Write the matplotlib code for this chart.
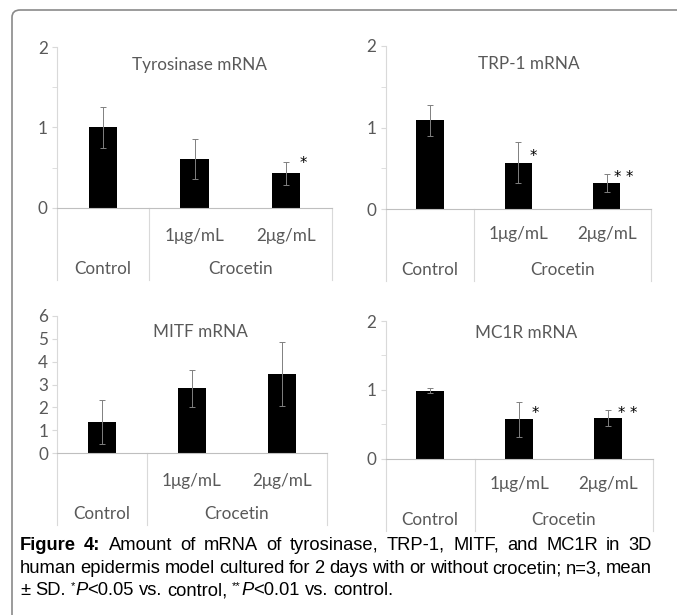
import matplotlib
matplotlib.use("Agg")
import matplotlib.pyplot as plt
from matplotlib.patches import FancyBboxPatch

plt.rcParams['font.family'] = ['Lato', 'DejaVu Sans']

# data
groups = ['Control', 'Crocetin']
doses = ['', '1μg/mL', '2μg/mL']

tyr_mean = [1.00, 0.61, 0.43]
tyr_sd = [0.25, 0.25, 0.145]
trp_mean = [1.09, 0.57, 0.32]
trp_sd = [0.19, 0.25, 0.115]
mitf_mean = [1.38, 2.83, 3.46]
mitf_sd = [0.96, 0.82, 1.39]
mc1r_mean = [0.99, 0.57, 0.59]
mc1r_sd = [0.035, 0.26, 0.12]

W, H = 677, 615
fig = plt.figure(figsize=(W / 100, H / 100), dpi=100)

# outer frame (only top and left visible)
frame = FancyBboxPatch((12 / W, -0.1), 1.2, 1 - 10 / H + 0.1,
                       boxstyle="round,pad=0,rounding_size=0.012",
                       transform=fig.transFigure, fill=False,
                       edgecolor='#8a8a8a', linewidth=1.2)
fig.patches.append(frame)

GRID = '#d9d9d9'
TXT = '#595959'
FS = 12.3


def panel(box, means, sds, title, title_xy, ymax, minor, stars, sub_off):
    x0, ytop, x1, ybot = box
    ax = fig.add_axes([x0 / W, 1 - ybot / H, (x1 - x0) / W, (ybot - ytop) / H])
    xs = range(len(means))
    ax.bar(xs, means, width=0.31, color='black', zorder=2)
    ax.errorbar(xs, means, yerr=sds, fmt='none', ecolor='#808080',
                elinewidth=0.7, capsize=2.5, capthick=0.7, zorder=3)
    ax.set_xlim(-0.5, 2.5)
    ax.set_ylim(0, ymax)
    ax.set_yticks(range(ymax + 1))
    if minor:
        ax.set_yticks([0.5, 1.5], minor=True)
    ax.tick_params(axis='y', which='both', direction='out', length=3.6,
                   color=GRID, labelcolor=TXT, labelsize=FS, pad=3)
    ax.set_xticks([])
    for s in ['top', 'right']:
        ax.spines[s].set_visible(False)
    ax.spines['left'].set_color(GRID)
    ax.spines['bottom'].set_color('#bfbfbf')
    ax.patch.set_alpha(0)

    ah = ybot - ytop
    low = -72 / ah
    for xv in [-0.5, 0.5, 2.5]:
        ax.plot([xv, xv], [0, low], transform=ax.get_xaxis_transform(),
                color=GRID, lw=0.8, clip_on=False)
    for i, d in enumerate(doses):
        if d:
            ax.annotate(d, (i, 0), xycoords=('data', 'axes fraction'),
                        xytext=(0, sub_off * 0.72), textcoords='offset points',
                        ha='center', va='center', fontsize=FS, color=TXT)
    ax.annotate(groups[0], (0, 0), xycoords=('data', 'axes fraction'),
                xytext=(0, -61 * 0.72), textcoords='offset points',
                ha='center', va='center', fontsize=FS, color=TXT)
    ax.annotate(groups[1], (1.5, 0), xycoords=('data', 'axes fraction'),
                xytext=(0, -61 * 0.72), textcoords='offset points',
                ha='center', va='center', fontsize=FS, color=TXT)

    ax.text(title_xy[0], title_xy[1], title, transform=ax.transAxes,
            ha='center', va='center', fontsize=FS, color=TXT)
    for sx, sy, st in stars:
        ax.text(sx, sy, st, ha='center', va='center', fontsize=10.5,
                color='black', fontfamily='DejaVu Sans')
    return ax


panel((57, 47, 332, 208), tyr_mean, tyr_sd, 'Tyrosinase mRNA', (0.52, 0.888),
      2, True, [(2.185, 0.55, '*')], -28)
panel((385.7, 46, 651, 209), trp_mean, trp_sd, 'TRP-1 mRNA', (0.54, 0.89),
      2, True, [(1.17, 0.64, '*'), (2.19, 0.39, '* *')], -25)
panel((57.3, 315.7, 326.7, 453.3), mitf_mean, mitf_sd, 'MITF mRNA', (0.533, 0.88),
      6, False, [], -28)
panel((385.7, 321, 652.7, 458.7), mc1r_mean, mc1r_sd, 'MC1R mRNA', (0.525, 0.913),
      2, True, [(1.18, 0.66, '*'), (2.22, 0.66, '* *')], -25)

# caption
CAP_FS = 13.2
N = {'fontweight': 'normal'}
B = {'fontweight': 'bold'}
I = {'fontstyle': 'italic'}
SUP = {'fontsize': 8, 'dy': 6}

line1 = [('Figure', B), ('4:', B)] + [(w, N) for w in
         'Amount of mRNA of tyrosinase, TRP-1, MITF, and MC1R in 3D'.split()]
line2 = [(w, N) for w in
         'human epidermis model cultured for 2 days with or without crocetin; n=3, mean'.split()]
# pieces of line 3: (text, style, space before)
line3 = [('±', N, False), ('SD.', N, True), ('*', SUP, True), ('P', I, False),
         ('<0.05', N, False), ('vs.', N, True), ('control,', N, True),
         ('**', SUP, True), ('P', I, False), ('<0.01', N, False),
         ('vs.', N, True), ('control.', N, True)]

fig.canvas.draw()
renderer = fig.canvas.get_renderer()
left_px, right_px = 20, 652


def make(word, props, base_y):
    p = dict(props)
    dy = p.pop('dy', 0)
    fs = p.pop('fontsize', CAP_FS)
    t = fig.text(0, 1 - (base_y - dy) / H, word, fontsize=fs,
                 fontfamily='Liberation Sans', va='baseline', ha='left', **p)
    return t, t.get_window_extent(renderer).width


def justify(words, base_y):
    items = [make(w, pr, base_y) for w, pr in words]
    gap = (right_px - left_px - sum(wd for _, wd in items)) / (len(items) - 1)
    x = left_px
    for t, wd in items:
        t.set_x(x / W)
        x += wd + gap


def run(pieces, base_y, space=5.0):
    x = left_px
    for w, pr, sp in pieces:
        if sp:
            x += space
        t, wd = make(w, pr, base_y)
        t.set_x(x / W)
        x += wd


justify(line1, 550)
justify(line2, 573)
run(line3, 595)

fig.savefig('out.png', dpi=100)
